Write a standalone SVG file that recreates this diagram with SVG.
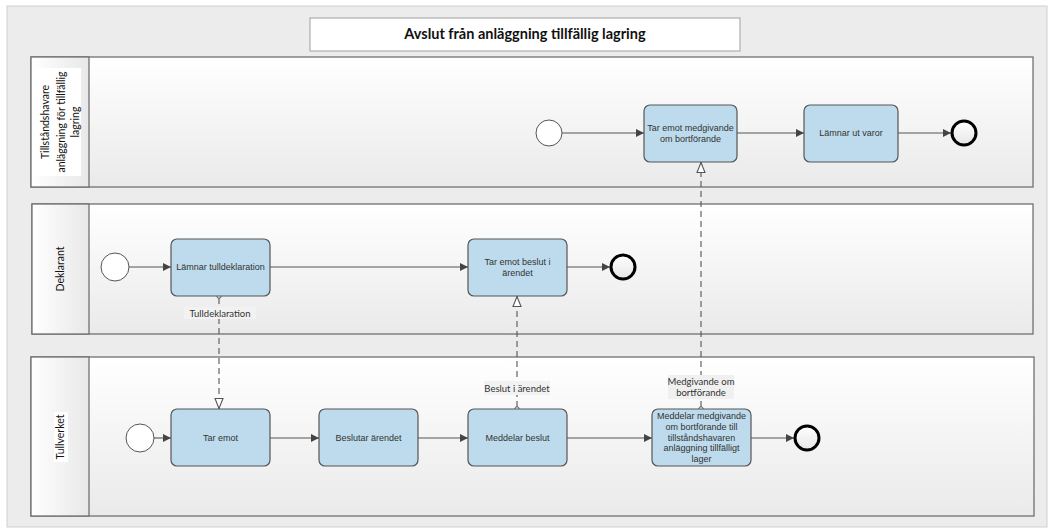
<svg xmlns="http://www.w3.org/2000/svg" width="1053" height="530" viewBox="0 0 1053 530">
<defs>
<linearGradient id="laneG" x1="0" y1="0" x2="0" y2="1"><stop offset="0" stop-color="#ffffff"/><stop offset="1" stop-color="#eaeaea"/></linearGradient>
<linearGradient id="headG" x1="0" y1="0" x2="1" y2="0"><stop offset="0" stop-color="#ffffff"/><stop offset="1" stop-color="#e8e8e8"/></linearGradient>
<linearGradient id="endG" x1="0" y1="0" x2="0" y2="1"><stop offset="0" stop-color="#ffffff"/><stop offset="1" stop-color="#e6e6e6"/></linearGradient>
<marker id="seq" viewBox="0 0 10 10" refX="10" refY="5" markerWidth="8" markerHeight="8" markerUnits="userSpaceOnUse" orient="auto"><path d="M0,0 L10,5 L0,10 Z" fill="#444"/></marker>
<marker id="dat" viewBox="0 0 12 10" refX="11.5" refY="5" markerWidth="12" markerHeight="10" markerUnits="userSpaceOnUse" orient="auto"><path d="M1,1 L11,5 L1,9 Z" fill="#fff" stroke="#555" stroke-width="1.1"/></marker>
</defs>
<style>
.lane{fill:url(#laneG);stroke:#707070;stroke-width:1.3}
.head{fill:url(#headG);stroke:#707070;stroke-width:1.3}
.task{fill:#bddbec;stroke:#555;stroke-width:1.2}
.tt{font-family:"Liberation Sans",Arial,sans-serif;font-size:9px;fill:#333;text-anchor:middle}
.lt{font-family:Lato,"Liberation Sans",sans-serif;font-size:10.5px;fill:#111;text-anchor:middle}
.lab{font-family:Lato,"Liberation Sans",sans-serif;font-size:9.5px;fill:#333;text-anchor:middle}
.start{fill:#fff;stroke:#555;stroke-width:1}
.end{fill:url(#endG);stroke:#000;stroke-width:3}
.sf{fill:none;stroke:#555;stroke-width:1.1;marker-end:url(#seq)}
.da{fill:none;stroke:#555;stroke-width:1.1;stroke-dasharray:6,4;marker-end:url(#dat)}
.dot{fill:#fff;stroke:#555;stroke-width:1}
</style>
<rect x="0" y="0" width="1053" height="530" fill="#ffffff"/>
<rect x="7" y="6" width="1040" height="521" fill="#ececec" stroke="#cfcfcf" stroke-width="1"/>
<g id="title">
<rect x="310" y="18" width="430" height="33" fill="#ffffff" stroke="#a0a0a0" stroke-width="1"/>
<text x="525" y="39" font-family="Lato,'Liberation Sans',sans-serif" font-size="14.5" font-weight="bold" fill="#111" text-anchor="middle">Avslut från anläggning tillfällig lagring</text>
</g>
<g id="lane1">
<rect class="lane" x="31" y="57" width="1002" height="130"/>
<rect class="head" x="31" y="57" width="58" height="130"/>
<rect x="34" y="68" width="47" height="108" fill="#fff"/>
<text class="lt" transform="translate(49,122) rotate(-90)">Tillståndshavare</text>
<text class="lt" transform="translate(65,122) rotate(-90)">anläggning för tillfällig</text>
<text class="lt" transform="translate(79,122) rotate(-90)">lagring</text>
</g>
<g id="lane2">
<rect class="lane" x="32" y="204" width="1001" height="130"/>
<rect class="head" x="32" y="204" width="57" height="130"/>
<text class="lt" transform="translate(64,269) rotate(-90)">Deklarant</text>
</g>
<g id="lane3">
<rect class="lane" x="31" y="357" width="1003" height="159"/>
<rect class="head" x="31" y="357" width="58" height="159"/>
<rect x="54" y="412" width="14" height="50" fill="#fff"/>
<text class="lt" transform="translate(64,437) rotate(-90)">Tullverket</text>
</g>
<g id="connectors">
<path class="sf" d="M562,133 L644,133"/>
<path class="sf" d="M737,133 L804,133"/>
<path class="sf" d="M898,133 L951,133"/>
<path class="sf" d="M129,267 L171,267"/>
<path class="sf" d="M270,267 L468,267"/>
<path class="sf" d="M567,267 L610,267"/>
<path class="sf" d="M154,438 L171,438"/>
<path class="sf" d="M270,438 L319,438"/>
<path class="sf" d="M418,438 L468,438"/>
<path class="sf" d="M567,438 L652,438"/>
<path class="sf" d="M751,438 L794,438"/>
<path class="da" d="M219,298 L219,409"/>
<path class="da" d="M517,407 L517,296"/>
<path class="da" d="M701,407 L701,162"/>
<circle class="dot" cx="219" cy="296" r="2.2"/>
<circle class="dot" cx="517" cy="409" r="2.2"/>
<circle class="dot" cx="701" cy="409" r="2.2"/>
<rect x="184" y="307" width="72" height="12" fill="#f2f2f2"/>
<text class="lab" x="220" y="317">Tulldeklaration</text>
<rect x="484" y="381" width="66" height="14" fill="#f2f2f2"/>
<text class="lab" x="517" y="392">Beslut i ärendet</text>
<rect x="668" y="375" width="66" height="24" fill="#f0f0f0"/>
<text class="lab" x="701" y="385">Medgivande om</text>
<text class="lab" x="701" y="396">bortförande</text>
</g>
<g id="start1"><circle class="start" cx="549" cy="133" r="13"/></g>
<g id="task_tar_emot_medgivande"><rect class="task" x="644" y="105" width="93" height="57" rx="6"/><text class="tt" x="690.5" y="131">Tar emot medgivande</text><text class="tt" x="690.5" y="142">om bortförande</text></g>
<g id="task_lamnar_ut"><rect class="task" x="804" y="105" width="94" height="57" rx="6"/><text class="tt" x="851" y="136">Lämnar ut varor</text></g>
<g id="end1"><circle class="end" cx="964" cy="133" r="12"/></g>
<g id="start2"><circle class="start" cx="115" cy="267" r="14"/></g>
<g id="task_lamnar_tull"><rect class="task" x="171" y="239" width="99" height="57" rx="6"/><text class="tt" x="220.5" y="270">Lämnar tulldeklaration</text></g>
<g id="task_tar_emot_beslut"><rect class="task" x="468" y="239" width="99" height="57" rx="6"/><text class="tt" x="517.5" y="265">Tar emot beslut i</text><text class="tt" x="517.5" y="276">ärendet</text></g>
<g id="end2"><circle class="end" cx="623" cy="267" r="12"/></g>
<g id="start3"><circle class="start" cx="140" cy="438" r="14"/></g>
<g id="task_tar_emot"><rect class="task" x="171" y="409" width="99" height="57" rx="6"/><text class="tt" x="220.5" y="441">Tar emot</text></g>
<g id="task_beslutar"><rect class="task" x="319" y="409" width="99" height="57" rx="6"/><text class="tt" x="368.5" y="441">Beslutar ärendet</text></g>
<g id="task_meddelar_beslut"><rect class="task" x="468" y="409" width="99" height="57" rx="6"/><text class="tt" x="517.5" y="441">Meddelar beslut</text></g>
<g id="task_meddelar_medgivande"><rect class="task" x="652" y="409" width="99" height="57" rx="6"/>
<text class="tt" x="701.5" y="419">Meddelar medgivande</text>
<text class="tt" x="701.5" y="430">om bortförande till</text>
<text class="tt" x="701.5" y="440.5">tillståndshavaren</text>
<text class="tt" x="701.5" y="451">anläggning tillfälligt</text>
<text class="tt" x="701.5" y="462">lager</text></g>
<g id="end3"><circle class="end" cx="807" cy="438" r="12"/></g>
</svg>
